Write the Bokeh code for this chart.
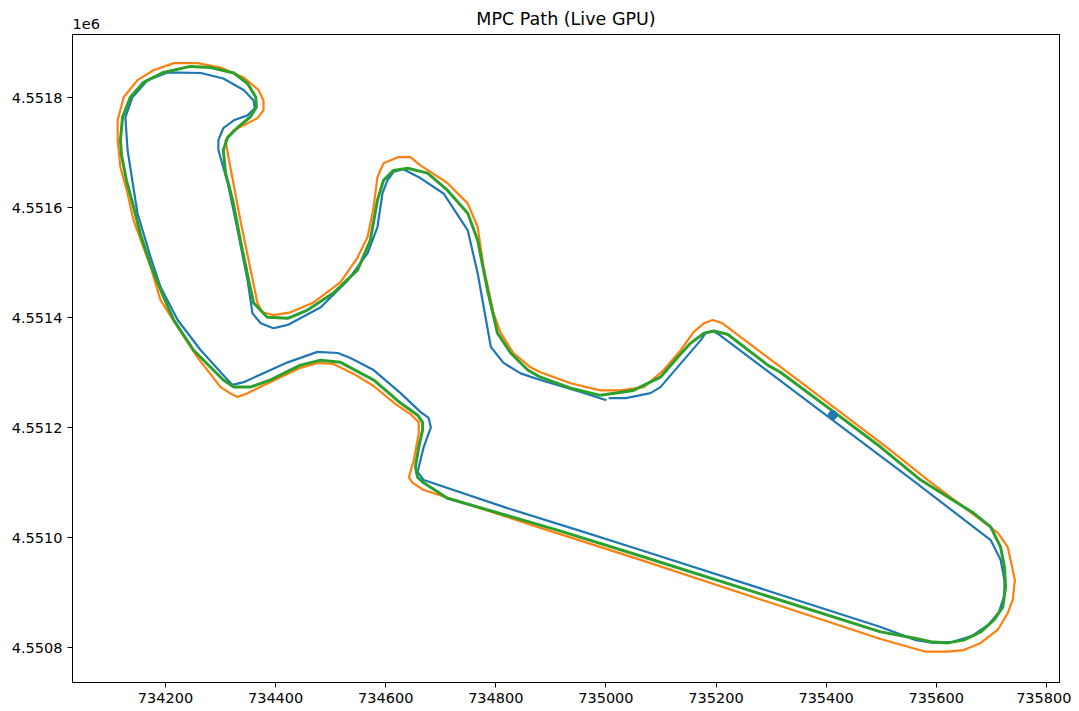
from bokeh.plotting import figure
from bokeh.models import Range1d, FixedTicker, Label
from bokeh.embed import file_html
from bokeh.resources import INLINE

# Reference path (blue)
blue_x = [735005, 735036, 735081, 735099, 735172, 735181, 735194, 735205, 735412, 735554,
          735699, 735717, 735724, 735724, 735714, 735695, 735666, 735630, 735595, 735563,
          735499, 735063, 734949, 734821, 734669, 734658, 734669, 734682, 734678, 734663,
          734627, 734578, 734536, 734513, 734476, 734422, 734342, 734322, 734313, 734264,
          734222, 734191, 734173, 734149, 734131, 734127, 734140, 734167, 734204, 734264,
          734305, 734342, 734360, 734362, 734349, 734324, 734305, 734296, 734296, 734313,
          734331, 734349, 734358, 734373, 734396, 734422, 734482, 734531, 734567, 734585,
          734594, 734603, 734614, 734632, 734663, 734705, 734749, 734767, 734791, 734814,
          734845, 734881, 734954, 735001]
blue_y = [4551254, 4551254, 4551263, 4551274, 4551359, 4551372, 4551376, 4551370, 4551214, 4551107,
          4550996, 4550960, 4550923, 4550896, 4550865, 4550842, 4550822, 4550811, 4550809, 4550814,
          4550838, 4550978, 4551014, 4551054, 4551105, 4551120, 4551165, 4551201, 4551218, 4551229,
          4551263, 4551305, 4551327, 4551336, 4551338, 4551319, 4551283, 4551278, 4551287, 4551341,
          4551396, 4551456, 4551510, 4551590, 4551705, 4551765, 4551801, 4551832, 4551846, 4551845,
          4551835, 4551814, 4551795, 4551781, 4551768, 4551759, 4551745, 4551723, 4551705, 4551645,
          4551559, 4551468, 4551408, 4551390, 4551381, 4551387, 4551419, 4551468, 4551517, 4551565,
          4551626, 4551650, 4551665, 4551670, 4551654, 4551626, 4551559, 4551481, 4551347, 4551318,
          4551299, 4551287, 4551265, 4551250]

# Outer bound path (orange)
orange_x = [734990, 735027, 735069, 735105, 735136, 735159, 735178, 735194, 735212, 735245,
            735354, 735512, 735585, 735712, 735730, 735735, 735743, 735739, 735730, 735712,
            735681, 735650, 735621, 735581, 735499, 735063, 734894, 734669, 734649, 734642,
            734651, 734660, 734660, 734645, 734618, 734578, 734542, 734505, 734476, 734445,
            734349, 734331, 734322, 734300, 734258, 734222, 734191, 734173, 734142, 734131,
            734118, 734113, 734113, 734124, 734149, 734178, 734215, 734258, 734300, 734342,
            734369, 734378, 734378, 734367, 734342, 734324, 734309, 734313, 734336, 734367,
            734376, 734396, 734427, 734469, 734518, 734549, 734567, 734578, 734585, 734596,
            734622, 734645, 734663, 734712, 734749, 734767, 734778, 734796, 734809, 734832,
            734863, 734881, 734936, 734990]
orange_y = [4551268, 4551268, 4551274, 4551305, 4551341, 4551374, 4551390, 4551396, 4551390, 4551365,
            4551283, 4551163, 4551105, 4551009, 4550983, 4550960, 4550923, 4550887, 4550863, 4550833,
            4550809, 4550796, 4550793, 4550793, 4550816, 4550960, 4551014, 4551087, 4551100, 4551110,
            4551141, 4551190, 4551210, 4551225, 4551243, 4551276, 4551298, 4551316, 4551318, 4551309,
            4551263, 4551256, 4551260, 4551274, 4551328, 4551383, 4551432, 4551492, 4551577, 4551626,
            4551674, 4551723, 4551759, 4551801, 4551832, 4551850, 4551863, 4551863, 4551855, 4551837,
            4551814, 4551795, 4551777, 4551763, 4551750, 4551741, 4551723, 4551699, 4551577, 4551427,
            4551410, 4551405, 4551410, 4551428, 4551465, 4551510, 4551547, 4551601, 4551656, 4551681,
            4551692, 4551692, 4551677, 4551645, 4551608, 4551565, 4551492, 4551408, 4551372, 4551336,
            4551310, 4551301, 4551281, 4551268]

# MPC path (green)
green_x = [734990, 735050, 735099, 735130, 735154, 735178, 735196, 735221, 735294, 735317,
           735414, 735499, 735572, 735668, 735699, 735717, 735724, 735726, 735721, 735705,
           735681, 735650, 735621, 735590, 735559, 735499, 735063, 734912, 734712, 734669,
           734658, 734654, 734660, 734667, 734667, 734658, 734627, 734578, 734518, 734482,
           734445, 734391, 734354, 734324, 734305, 734251, 734215, 734195, 734173, 734155,
           734142, 734129, 734120, 734118, 734122, 734136, 734160, 734196, 734245, 734282,
           734324, 734349, 734364, 734365, 734354, 734331, 734313, 734305, 734309, 734322,
           734336, 734351, 734360, 734385, 734422, 734458, 734505, 734549, 734572, 734585,
           734596, 734614, 734640, 734676, 734712, 734749, 734767, 734785, 734803, 734827,
           734858, 734881, 734936, 734990]
green_y = [4551259, 4551268, 4551292, 4551328, 4551354, 4551372, 4551376, 4551370, 4551314, 4551301,
           4551229, 4551165, 4551105, 4551045, 4551020, 4550983, 4550947, 4550911, 4550874, 4550851,
           4550829, 4550814, 4550809, 4550811, 4550818, 4550829, 4550967, 4551014, 4551072, 4551100,
           4551110, 4551129, 4551165, 4551196, 4551210, 4551223, 4551245, 4551287, 4551319, 4551323,
           4551314, 4551287, 4551274, 4551274, 4551287, 4551341, 4551396, 4551441, 4551496, 4551550,
           4551601, 4551650, 4551696, 4551723, 4551765, 4551801, 4551828, 4551846, 4551857, 4551855,
           4551845, 4551826, 4551801, 4551783, 4551765, 4551746, 4551728, 4551705, 4551663, 4551614,
           4551541, 4551468, 4551427, 4551401, 4551399, 4551414, 4551445, 4551487, 4551541, 4551614,
           4551650, 4551668, 4551672, 4551663, 4551632, 4551590, 4551541, 4551450, 4551372, 4551336,
           4551305, 4551292, 4551272, 4551259]

# Current vehicle position
car_x = [735412]
car_y = [4551223]

x_ticks = [734200, 734400, 734600, 734800, 735000, 735200, 735400, 735600, 735800]
y_ticks = [4550800, 4551000, 4551200, 4551400, 4551600, 4551800]
y_tick_labels = ["4.5508", "4.5510", "4.5512", "4.5514", "4.5516", "4.5518"]

FONT = "DejaVu Sans"

p = figure(frame_width=987, frame_height=648,
           x_range=Range1d(734031, 735824), y_range=Range1d(4550737, 4551915),
           output_backend="svg", toolbar_location=None,
           min_border_left=72, min_border_top=34, min_border_right=12, min_border_bottom=26)

p.background_fill_color = "white"
p.border_fill_color = "white"
p.outline_line_color = "black"
p.outline_line_width = 1
p.xgrid.visible = False
p.ygrid.visible = False

for ax in (p.xaxis[0], p.yaxis[0]):
    ax.axis_line_color = "black"
    ax.axis_line_width = 1
    ax.major_tick_in = 0
    ax.major_tick_out = 5
    ax.major_tick_line_color = "black"
    ax.minor_tick_line_color = None
    ax.major_label_text_font = FONT
    ax.major_label_text_font_size = "14.5px"
    ax.major_label_text_color = "black"
    ax.major_label_standoff = 5

p.xaxis.ticker = FixedTicker(ticks=x_ticks)
p.yaxis.ticker = FixedTicker(ticks=y_ticks)
p.xaxis.major_label_overrides = {t: str(t) for t in x_ticks}
p.yaxis.major_label_overrides = {t: s for t, s in zip(y_ticks, y_tick_labels)}

p.line(blue_x, blue_y, line_color="#1f77b4", line_width=2.2)
p.line(orange_x, orange_y, line_color="#ff7f0e", line_width=2.2)
p.line(green_x, green_y, line_color="#2ca02c", line_width=3)
p.scatter(car_x, car_y, size=9, color="#1f77b4")

p.add_layout(Label(x=493.5, y=16, x_units="screen", y_units="screen",
                   text="MPC Path (Live GPU)", text_align="center", text_baseline="middle",
                   text_font=FONT, text_font_size="17.5px", text_color="black"), "above")
p.add_layout(Label(x=0, y=-9, x_units="screen", y_units="screen",
                   text="1e6", text_align="left", text_baseline="middle",
                   text_font=FONT, text_font_size="14.5px", text_color="black"), "above")

open("out.html", "w").write(file_html(p, INLINE))
